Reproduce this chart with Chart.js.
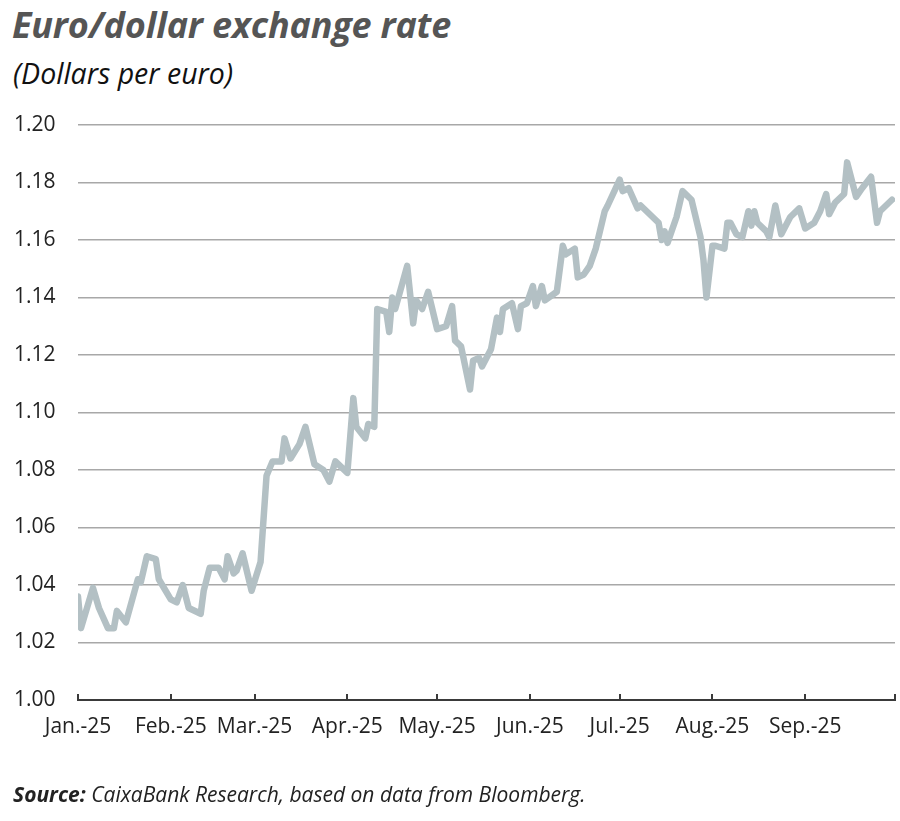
<!DOCTYPE html>
<html>
<head>
<meta charset="utf-8">
<script src="https://cdn.jsdelivr.net/npm/chart.js@4/dist/chart.umd.min.js"></script>
<style>
  html, body { margin: 0; padding: 0; background: #fff; }
  #wrap { position: relative; width: 900px; height: 821px; font-family: "Open Sans", sans-serif; }
  #title { position: absolute; left: 12px; top: 0px; font-size: 36px; font-weight: 700; font-style: italic; color: #555; letter-spacing: -0.2px; }
  #subtitle { position: absolute; left: 13px; top: 54px; font-size: 28.5px; font-style: italic; color: #111; }
  #source { position: absolute; left: 13px; top: 780px; font-size: 21px; font-style: italic; color: #222; }
  #source b { font-weight: 700; }
  canvas { position: absolute; left: 0; top: 0; }
</style>
</head>
<body>
<div id="wrap">
  <div id="title">Euro/dollar exchange rate</div>
  <div id="subtitle">(Dollars per euro)</div>
  <canvas id="fxChart" width="900" height="821"></canvas>
  <div id="source"><b>Source:</b> CaixaBank Research, based on data from Bloomberg.</div>
</div>
<script>
// dias desde el 1 de enero de 2025 y cotizacion EUR/USD
const days = [0, 1, 5, 7, 10, 12, 13, 16, 20, 21, 23, 26, 27, 31, 33, 35, 37, 41, 42, 44,
  47, 49, 50, 52, 53, 55, 58, 61, 63, 65, 68, 69, 71, 74, 76, 79, 82, 84, 86, 90,
  92, 93, 96, 97, 99, 100, 103, 104, 105, 106, 110, 112, 113, 115, 117, 120, 123, 125, 126, 128,
  131, 132, 134, 135, 138, 140, 141, 142, 145, 147, 148, 150, 152, 153, 155, 156, 160, 162, 163, 166,
  167, 169, 171, 173, 176, 177, 181, 182, 184, 187, 188, 190, 194, 195, 196, 197, 200, 202, 205, 208,
  209, 210, 212, 213, 216, 217, 218, 220, 222, 224, 225, 226, 227, 230, 231, 233, 235, 238, 241, 243,
  246, 248, 250, 251, 253, 256, 257, 260, 262, 265, 267, 268, 272];
const rates = [1.036, 1.025, 1.039, 1.032, 1.025, 1.025, 1.031, 1.027, 1.042, 1.041, 1.050, 1.049, 1.042, 1.035, 1.034, 1.040, 1.032, 1.030, 1.038, 1.046,
  1.046, 1.042, 1.050, 1.044, 1.045, 1.051, 1.038, 1.048, 1.078, 1.083, 1.083, 1.091, 1.084, 1.089, 1.095, 1.082, 1.080, 1.076, 1.083, 1.079,
  1.105, 1.095, 1.091, 1.096, 1.095, 1.136, 1.135, 1.128, 1.140, 1.136, 1.151, 1.131, 1.139, 1.136, 1.142, 1.129, 1.130, 1.137, 1.125, 1.123,
  1.108, 1.118, 1.119, 1.116, 1.122, 1.133, 1.128, 1.136, 1.138, 1.129, 1.137, 1.138, 1.144, 1.137, 1.144, 1.139, 1.142, 1.158, 1.155, 1.157,
  1.147, 1.148, 1.151, 1.157, 1.170, 1.172, 1.181, 1.177, 1.178, 1.171, 1.172, 1.170, 1.166, 1.160, 1.163, 1.159, 1.168, 1.177, 1.174, 1.161,
  1.153, 1.140, 1.158, 1.158, 1.157, 1.166, 1.166, 1.162, 1.161, 1.170, 1.165, 1.170, 1.166, 1.163, 1.161, 1.172, 1.162, 1.168, 1.171, 1.164,
  1.166, 1.170, 1.176, 1.169, 1.173, 1.176, 1.187, 1.175, 1.178, 1.182, 1.166, 1.170, 1.174];

// inicio de cada mes (dias desde 1 de enero) y sus etiquetas
const monthStarts = [0, 31, 59, 90, 120, 151, 181, 212, 243, 273];
const monthLabels = ['Jan.-25', 'Feb.-25', 'Mar.-25', 'Apr.-25', 'May.-25', 'Jun.-25', 'Jul.-25', 'Aug.-25', 'Sep.-25', ''];

const yTicks = [1.00, 1.02, 1.04, 1.06, 1.08, 1.10, 1.12, 1.14, 1.16, 1.18, 1.20];

const points = days.map((d, i) => ({ x: d, y: rates[i] }));

const ctx = document.getElementById('fxChart').getContext('2d');
new Chart(ctx, {
    type: 'line',
    data: {
        datasets: [{
            data: points,
            borderColor: '#b3c0c4',
            borderWidth: 6.5,
            borderJoinStyle: 'round',
            borderCapStyle: 'round',
            pointRadius: 0,
            tension: 0,
            fill: false
        }]
    },
    options: {
        responsive: false,
        animation: false,
        devicePixelRatio: 1,
        layout: { padding: { top: 125, left: 14, right: 5, bottom: 0 } },
        scales: {
            x: {
                type: 'linear',
                min: 0,
                max: 273,
                afterBuildTicks: (scale) => { scale.ticks = monthStarts.map(v => ({ value: v })); },
                afterFit: (scale) => {
                    scale.height = 121;
                    scale.paddingLeft = 0;
                    scale.paddingRight = 0;
                },
                border: { display: true, color: '#3a3a3a', width: 2 },
                grid: { drawOnChartArea: false, drawTicks: true, tickLength: -6, color: '#3a3a3a', lineWidth: 2 },
                ticks: {
                    autoSkip: false,
                    maxRotation: 0,
                    padding: 20,
                    color: '#222',
                    font: { family: 'Open Sans', size: 21 },
                    callback: (value, index) => monthLabels[index]
                }
            },
            y: {
                min: 1.0,
                max: 1.2,
                afterBuildTicks: (scale) => { scale.ticks = yTicks.map(v => ({ value: v })); },
                afterFit: (scale) => { scale.width = 64; },
                border: { display: false },
                grid: { drawTicks: false, color: '#a8a8a8', lineWidth: 1.5 },
                ticks: {
                    crossAlign: 'far',
                    color: '#222',
                    font: { family: 'Open Sans', size: 21 },
                    callback: (value) => value.toFixed(2)
                }
            }
        },
        plugins: { legend: { display: false }, tooltip: { enabled: false } }
    }
});
</script>
</body>
</html>
